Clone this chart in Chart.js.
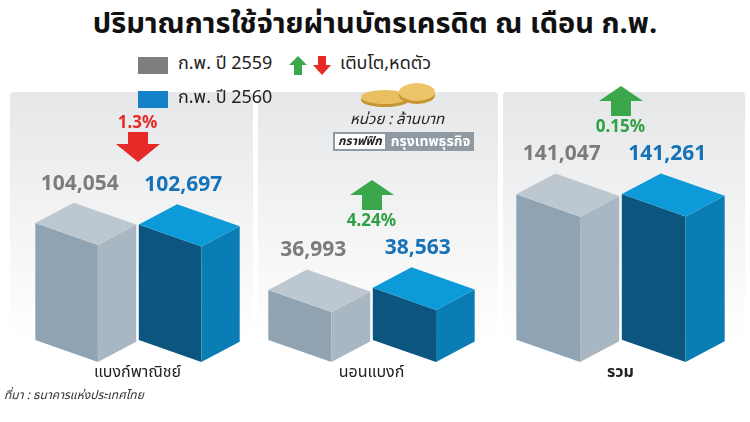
<!DOCTYPE html>
<html><head><meta charset="utf-8">
<script src="https://cdn.jsdelivr.net/npm/chart.js@4"></script>
<style>
body{margin:0;width:750px;height:422px;background:#fff;font-family:"Noto Sans Thai","Noto Sans",sans-serif;position:relative;overflow:hidden}
.abs{position:absolute;white-space:nowrap}
.panel{position:absolute;top:92px;height:292px;background:linear-gradient(#e6e7e9,#ffffff 85%);border-radius:4px}
.panel canvas{position:absolute;left:0;top:0}
.val{position:absolute;font:bold 21px "Noto Sans",sans-serif;transform:translateX(-50%)}
.cat{position:absolute;font-size:16px;color:#222;transform:translateX(-50%)}
.pct{position:absolute;font:bold 17px "Noto Sans",sans-serif;transform:translateX(-50%)}
</style></head><body>
<div class="abs" style="left:0;width:750px;text-align:center;top:2px;font-size:29px;font-weight:bold;color:#111">ปริมาณการใช้จ่ายผ่านบัตรเครดิต ณ เดือน ก.พ.</div>
<div class="abs" style="left:138px;top:57px;width:30px;height:17px;background:#7d7e80"></div>
<div class="abs" style="left:178px;top:50px;font-size:18px;color:#222">ก.พ. ปี 2559</div>
<svg class="abs" style="left:288px;top:55px" width="46" height="22"><polygon points="1,10 10,1 19,10 14,10 14,20 6,20 6,10" fill="#3aa84a"/><polygon points="25,10 30,10 30,1 38,1 38,10 43,10 34,20" fill="#e52a27"/></svg>
<div class="abs" style="left:340px;top:50px;font-size:18px;color:#222">เติบโต,หดตัว</div>
<div class="abs" style="left:138px;top:91px;width:30px;height:17px;background:#1581c8;z-index:2"></div>
<div class="abs" style="left:178px;top:84px;font-size:18px;color:#222;z-index:2">ก.พ. ปี 2560</div>

<div class="panel" style="left:10px;width:243px"><canvas id="c0"></canvas></div>
<div class="panel" style="left:258px;width:240px"><canvas id="c1"></canvas></div>
<div class="panel" style="left:503px;width:242px"><canvas id="c2"></canvas></div>

<svg class="abs" style="left:355px;top:82px;z-index:2" width="90" height="28"><ellipse cx="30" cy="18" rx="24" ry="7" fill="#c7952f"/><ellipse cx="30" cy="15" rx="24" ry="7" fill="#e9bf62"/><ellipse cx="62" cy="13" rx="18" ry="9" fill="#c7952f"/><ellipse cx="62" cy="10" rx="18" ry="9" fill="#eec46a"/></svg>
<div class="abs" style="left:350px;top:108px;font-size:15px;font-style:italic;color:#222;z-index:2">หน่วย : ล้านบาท</div>
<div class="abs" style="left:333px;top:132px;height:19px;background:#8f9aa3;font-size:12px;z-index:2;display:flex">
<span style="background:#fff;color:#222;font-style:italic;font-weight:bold;margin:2px;padding:0 3px;line-height:15px">กราฟฟิก</span><span style="color:#fff;font-weight:bold;padding:0 4px;line-height:19px;font-size:14px">กรุงเทพธุรกิจ</span></div>
<div class="abs" style="left:4px;top:386px;font-size:12px;font-style:italic;color:#333">ที่มา : ธนาคารแห่งประเทศไทย</div>

<script>
const categories = ['แบงก์พาณิชย์', 'นอนแบงก์', 'รวม'];
const years = ['ก.พ. ปี 2559', 'ก.พ. ปี 2560'];
const values2559 = [104054, 36993, 141047];
const values2560 = [102697, 38563, 141261];
const changes = ['1.3%', '4.24%', '0.15%'];
const changeUp = [false, true, true];
const scaleMax = [240000, 200000, 262000];
const padLeft = [24, 9, 12];
const padRight = [12, 22, 19];

const faces = [
  { left: '#8fa3b2', right: '#a8b7c2', top: '#bcc7d0', text: '#7b7c7e' },
  { left: '#0b557f', right: '#0a7db5', top: '#0d9ad8', text: '#1672b8' }
];

const box3d = {
  id: 'box3d',
  afterDatasetsDraw(chart) {
    const ctx = chart.ctx;
    chart.getDatasetMeta(0).data.forEach((bar, i) => {
      const w = bar.width, L = bar.x - w / 2, R = bar.x + w / 2;
      const fx = L + w * 0.62, yT = bar.y, yB = bar.base;
      const dl = (fx - L) * 0.35, dr = (R - fx) * 0.53;
      const c = faces[i];
      const poly = (pts, col) => {
        ctx.beginPath();
        pts.forEach((p, k) => k ? ctx.lineTo(p[0], p[1]) : ctx.moveTo(p[0], p[1]));
        ctx.closePath(); ctx.fillStyle = col; ctx.fill();
      };
      poly([[L, yT - dl], [fx, yT], [fx, yB], [L, yB - dl]], c.left);
      poly([[fx, yT], [R, yT - dr], [R, yB - dr], [fx, yB]], c.right);
      poly([[L, yT - dl], [L + (R - fx), yT - dl - dr], [R, yT - dr], [fx, yT]], c.top);
    });
  }
};

categories.forEach((cat, p) => {
  const canvas = document.getElementById('c' + p);
  const panel = canvas.parentElement;
  canvas.width = panel.clientWidth; canvas.height = 292;
  new Chart(canvas, {
    type: 'bar',
    data: {
      labels: years,
      datasets: [{ data: [values2559[p], values2560[p]], backgroundColor: 'rgba(0,0,0,0)', barPercentage: 0.975, categoryPercentage: 1 }]
    },
    options: {
      responsive: false, animation: false,
      layout: { padding: { left: padLeft[p], right: padRight[p], top: 0, bottom: 22 } },
      plugins: { legend: { display: false }, tooltip: { enabled: false } },
      scales: { x: { display: false }, y: { display: false, min: 0, max: scaleMax[p] } }
    },
    plugins: [box3d, {
      id: 'labels',
      afterRender(chart) {
        if (panel.dataset.done) return; panel.dataset.done = 1;
        const bars = chart.getDatasetMeta(0).data;
        bars.forEach((bar, i) => {
          const d = document.createElement('div');
          d.className = 'val'; d.style.color = faces[i].text;
          d.textContent = (i ? values2560 : values2559)[p].toLocaleString('en-US');
          d.style.left = (bar.x - 6) + 'px';
          d.style.top = (bar.y - bar.width * 0.45 - 32) + 'px';
          panel.appendChild(d);
        });
        const c = document.createElement('div');
        c.className = 'cat'; c.textContent = cat;
        if (p === 2) c.style.fontWeight = 'bold';
        c.style.left = (chart.chartArea.left + chart.chartArea.right) / 2 + 'px';
        c.style.top = (chart.chartArea.bottom - 2) + 'px';
        panel.appendChild(c);
        const top = Math.min(bars[0].y, bars[1].y) - bars[0].width * 0.45 - 32;
        const mid = (bars[0].x + bars[1].x) / 2;
        const up = changeUp[p];
        const a = document.createElementNS('http://www.w3.org/2000/svg', 'svg');
        a.setAttribute('width', 48); a.setAttribute('height', 30);
        a.style.position = 'absolute'; a.style.left = (mid - 24) + 'px';
        a.innerHTML = up
          ? '<polygon points="2,15 24,0 46,15 34,15 34,30 14,30 14,15" fill="#3aa84a"/>'
          : '<polygon points="2,12 14,12 14,0 34,0 34,12 46,12 24,30" fill="#e52a27"/>';
        const t = document.createElement('div');
        t.className = 'pct'; t.textContent = changes[p];
        t.style.color = up ? '#2ea043' : '#e52a27'; t.style.left = mid + 'px';
        if (up) { a.style.top = (top - 52) + 'px'; t.style.top = (top - 24) + 'px'; }
        else { t.style.top = (top - 58) + 'px'; a.style.top = (top - 36) + 'px'; }
        panel.appendChild(a); panel.appendChild(t);
      }
    }]
  });
});
</script>
</body></html>
